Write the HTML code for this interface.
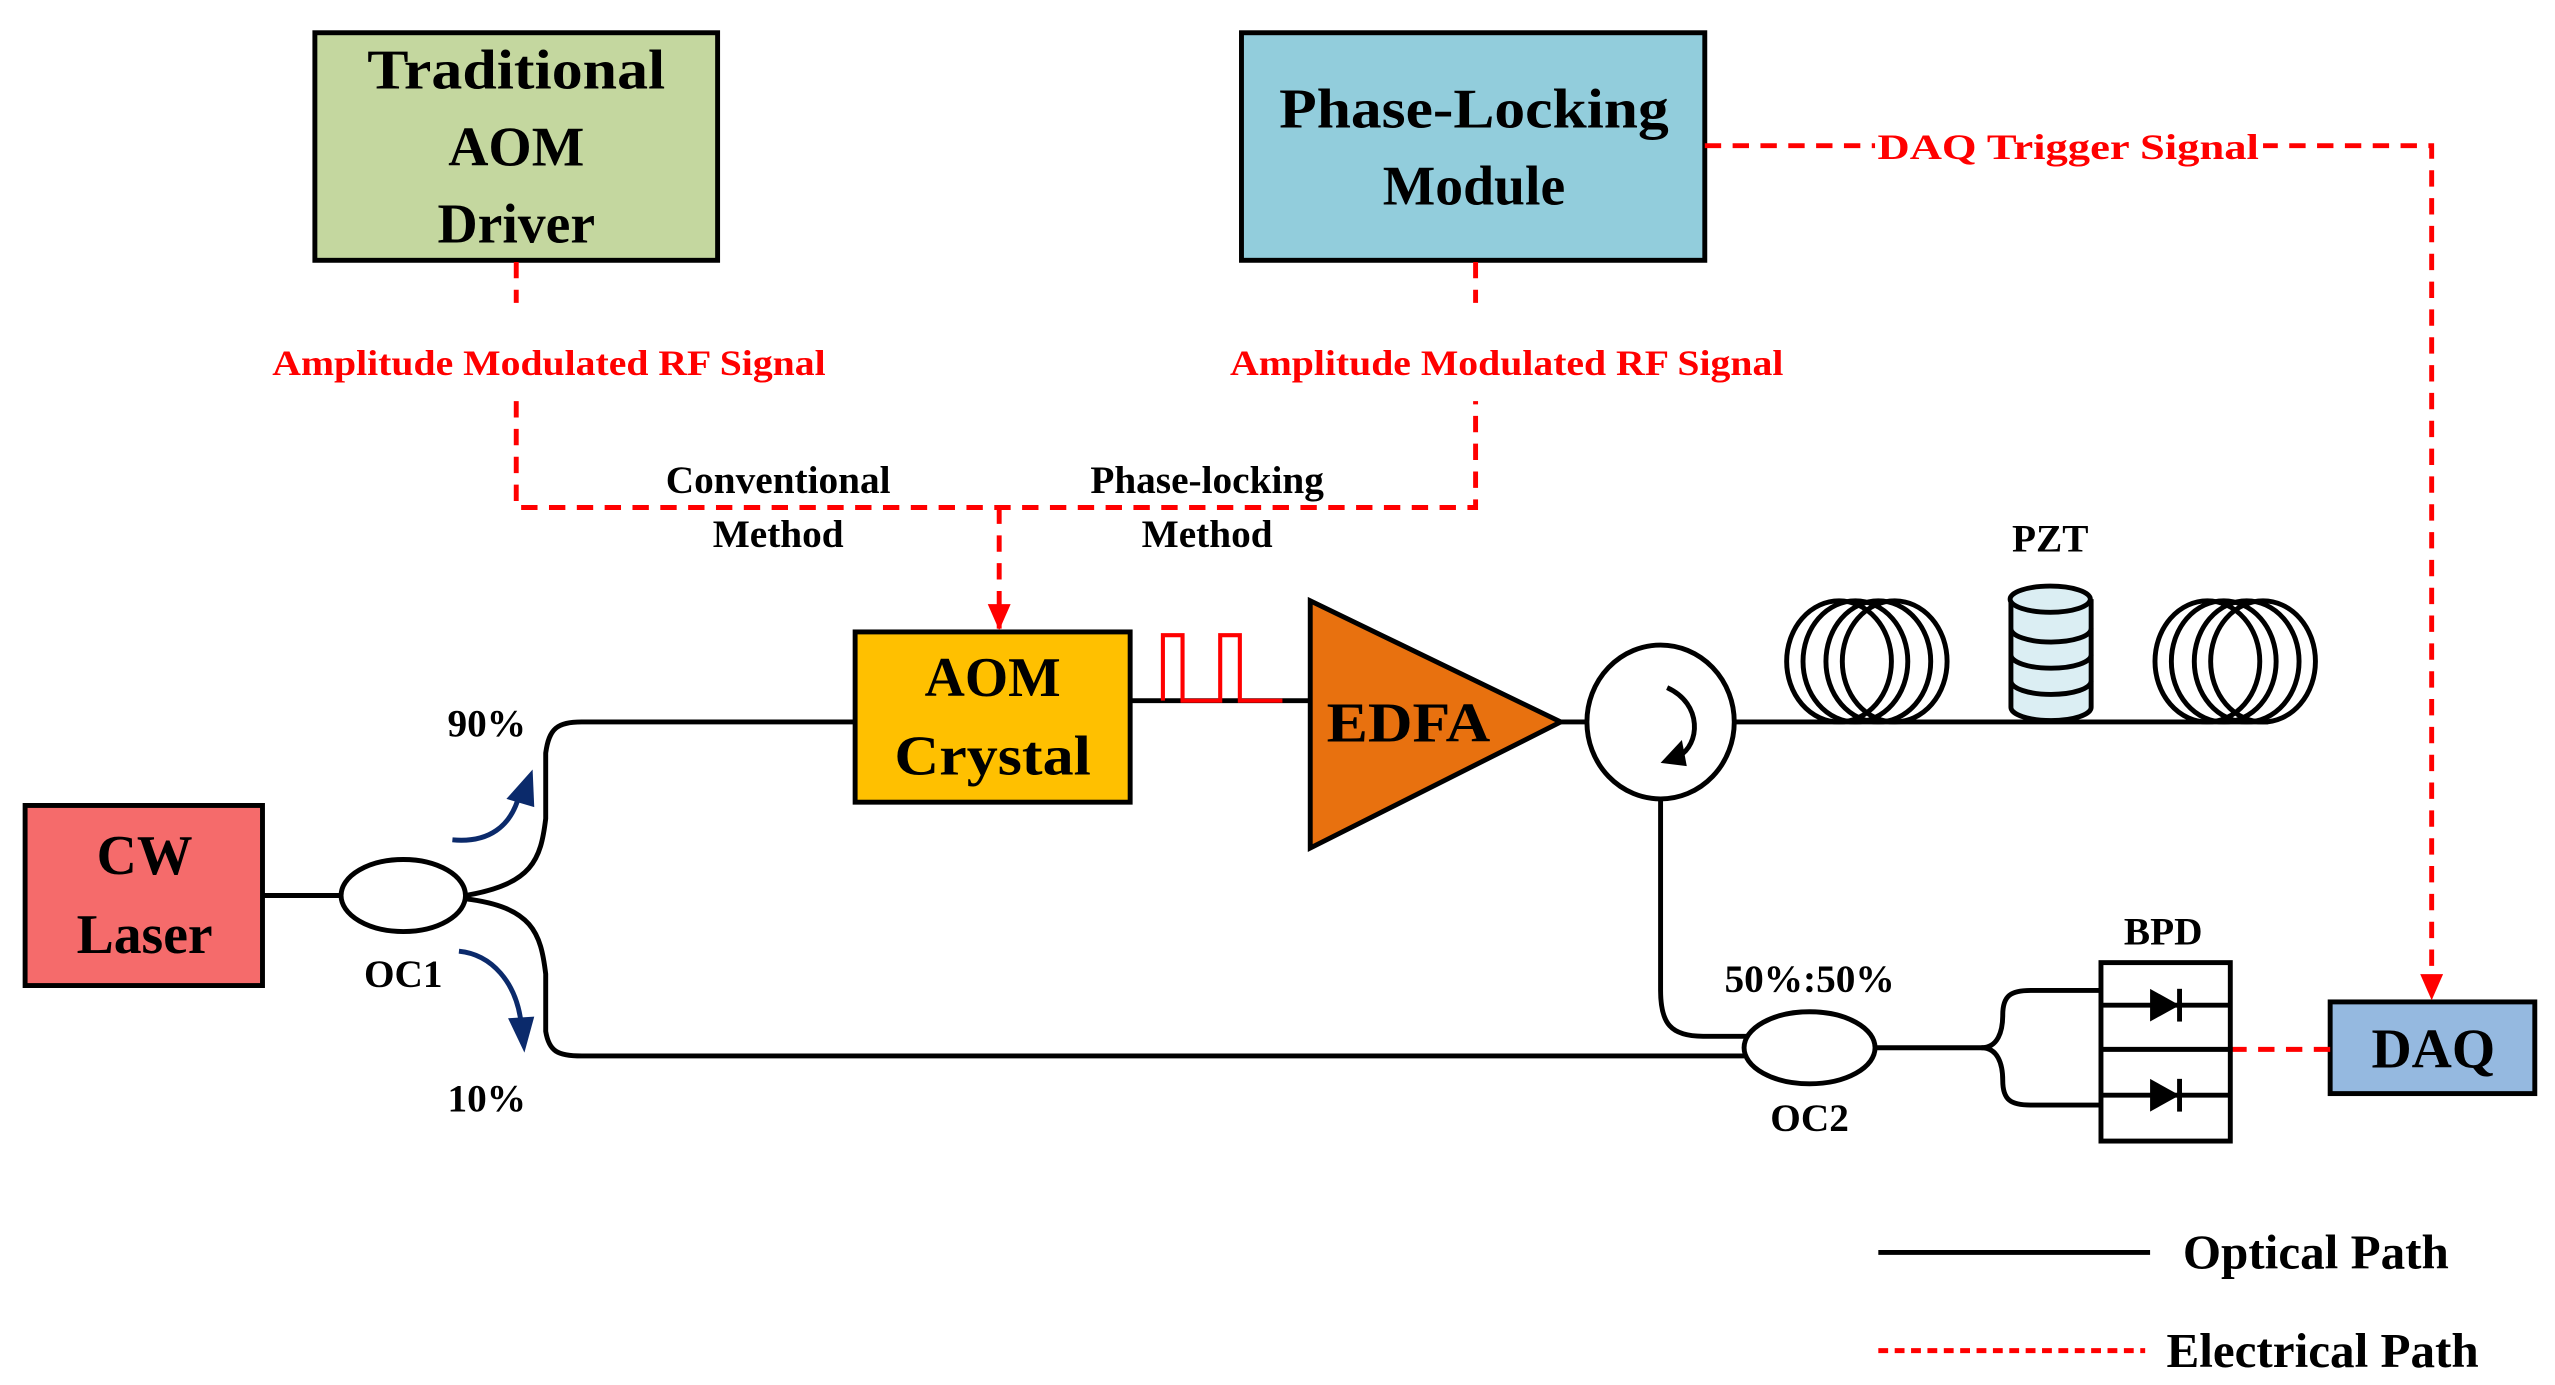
<!DOCTYPE html>
<html><head><meta charset="utf-8"><style>html,body{margin:0;padding:0;background:#fff}svg{display:block}</style></head>
<body>
<svg width="2555" height="1385" viewBox="0 0 1560 846" xmlns="http://www.w3.org/2000/svg" font-family="Liberation Serif, serif" font-weight="bold">
<defs>
<marker id="ra" markerWidth="16" markerHeight="14" refX="15" refY="7" orient="auto" markerUnits="userSpaceOnUse" viewBox="0 0 16 14"><path d="M0,0 L16,7 L0,14 Z" fill="#f00"/></marker>
</defs>
<g stroke="#000" stroke-width="3">
<rect x="192" y="20" width="246" height="139" fill="#c4d79f"/>
<rect x="758" y="20" width="283" height="139" fill="#92cddc"/>
<rect x="522" y="386" width="168" height="104" fill="#ffc000"/>
<rect x="15" y="492" width="145" height="110" fill="#f56b6b"/>
<rect x="1423" y="612" width="125" height="56" fill="#95b9e0"/>
</g>
<g stroke="#f00" stroke-width="3" fill="none" stroke-dasharray="10,7">
<path d="M315,160 V185"/><path d="M315,245 V310 H901 V245"/><path d="M901,160 V185"/>
<path d="M610,310 V384" marker-end="url(#ra)"/>
<path d="M1041,89 H1485 V610" marker-end="url(#ra)"/>
<path d="M1362,641 H1423"/>
</g>
<rect x="1145" y="76" width="237" height="26" fill="#fff"/>
<g fill="#f00" font-size="22" text-anchor="middle">
<text x="335" y="229" textLength="338" lengthAdjust="spacingAndGlyphs">Amplitude Modulated RF Signal</text>
<text x="920" y="229" textLength="338" lengthAdjust="spacingAndGlyphs">Amplitude Modulated RF Signal</text>
<text x="1263" y="97" textLength="233" lengthAdjust="spacingAndGlyphs">DAQ Trigger Signal</text>
</g>
<g stroke="#000" stroke-width="3" fill="none">
<path d="M160,547 H208"/>
<ellipse cx="246" cy="547" rx="38" ry="22" fill="#fff"/>
<path d="M284,547 C325,540 330,525 333,500 V460 C335,445 340,441 355,441 H522"/>
<path d="M284,549 C325,554 330,570 333,595 V630 C335,642 340,645 355,645 H1065"/>
<path d="M690,428 H800"/>
<polygon points="800,367 800,518 953,441" fill="#e8710f"/>
<path d="M953,441 H968"/>
<ellipse cx="1014" cy="441" rx="45" ry="47" fill="#fff"/>
<path d="M1059,441 H1385"/>
<path d="M1014,488 V605 C1014,625 1020,633 1040,633 H1067"/>
<ellipse cx="1105" cy="640" rx="40" ry="22" fill="#fff"/>
<path d="M1145,640 H1210 C1220,640 1223,630 1223,620 C1223,608 1228,605 1240,605 H1283"/>
<path d="M1210,640 C1220,640 1223,650 1223,660 C1223,672 1228,675 1240,675 H1283"/>
<rect x="1283" y="588" width="79" height="109" fill="#fff"/>
<path d="M1283,641 H1362 M1283,614 H1362 M1283,669 H1362"/>
<ellipse cx="1123" cy="404" rx="32" ry="37"/><ellipse cx="1133" cy="404" rx="32" ry="37"/><ellipse cx="1147" cy="404" rx="32" ry="37"/><ellipse cx="1157" cy="404" rx="32" ry="37"/>
<ellipse cx="1348" cy="404" rx="32" ry="37"/><ellipse cx="1358" cy="404" rx="32" ry="37"/><ellipse cx="1372" cy="404" rx="32" ry="37"/><ellipse cx="1382" cy="404" rx="32" ry="37"/>
<path d="M1228,366 V432 A24,8 0 0 0 1277,432 V366" fill="#dbeef3"/>
<ellipse cx="1252" cy="366" rx="24.5" ry="8" fill="#dbeef3"/>
<path d="M1228,384 A24,8 0 0 0 1277,384 M1228,400 A24,8 0 0 0 1277,400 M1228,416 A24,8 0 0 0 1277,416"/>
<path d="M1018,420 C1040,430 1038,455 1025,462"/>
<path d="M1147,765 H1313"/>
</g>
<polygon points="1027,452 1030,468 1014,466" fill="#000"/>
<polygon points="1313,604 1313,624 1331,614" fill="#000"/><path d="M1331,604 V624" stroke="#000" stroke-width="3"/>
<polygon points="1313,659 1313,679 1331,669" fill="#000"/><path d="M1331,659 V679" stroke="#000" stroke-width="3"/>
<path d="M710,428 V388 H722 V428 H745 V388 H757 V428 H783" stroke="#f00" stroke-width="2.5" fill="none"/>
<g stroke="#0b2a6b" stroke-width="3" fill="none">
<path d="M276,513 C298,515 312,505 317,485"/>
<path d="M280,581 C300,583 315,600 318,625"/>
</g>
<polygon points="309,488 325,470 326,493" fill="#0b2a6b"/>
<polygon points="310,622 326,621 320,643" fill="#0b2a6b"/>
<path d="M1147,825 H1310" stroke="#f00" stroke-width="3" stroke-dasharray="6,4"/>
<g font-size="34" text-anchor="middle" fill="#000">
<text x="315" y="54" textLength="182" lengthAdjust="spacingAndGlyphs">Traditional</text>
<text x="315" y="101">AOM</text>
<text x="315" y="148">Driver</text>
<text x="900" y="78" textLength="238" lengthAdjust="spacingAndGlyphs">Phase-Locking</text>
<text x="900" y="125">Module</text>
<text x="606" y="425">AOM</text>
<text x="606" y="473" textLength="120" lengthAdjust="spacingAndGlyphs">Crystal</text>
<text x="88" y="534">CW</text>
<text x="88" y="582">Laser</text>
<text x="1486" y="652">DAQ</text>
<text x="860" y="453" textLength="100" lengthAdjust="spacingAndGlyphs">EDFA</text>
</g>
<g font-size="24" text-anchor="middle">
<text x="475" y="301">Conventional</text><text x="475" y="334">Method</text>
<text x="737" y="301">Phase-locking</text><text x="737" y="334">Method</text>
<text x="297" y="450">90%</text><text x="297" y="679">10%</text>
<text x="246" y="603">OC1</text>
<text x="1252" y="337">PZT</text>
<text x="1105" y="606">50%:50%</text>
<text x="1105" y="691">OC2</text>
<text x="1321" y="577">BPD</text>
</g>
<g font-size="30">
<text x="1333" y="775">Optical Path</text>
<text x="1323" y="835">Electrical Path</text>
</g>
</svg>
</body></html>
